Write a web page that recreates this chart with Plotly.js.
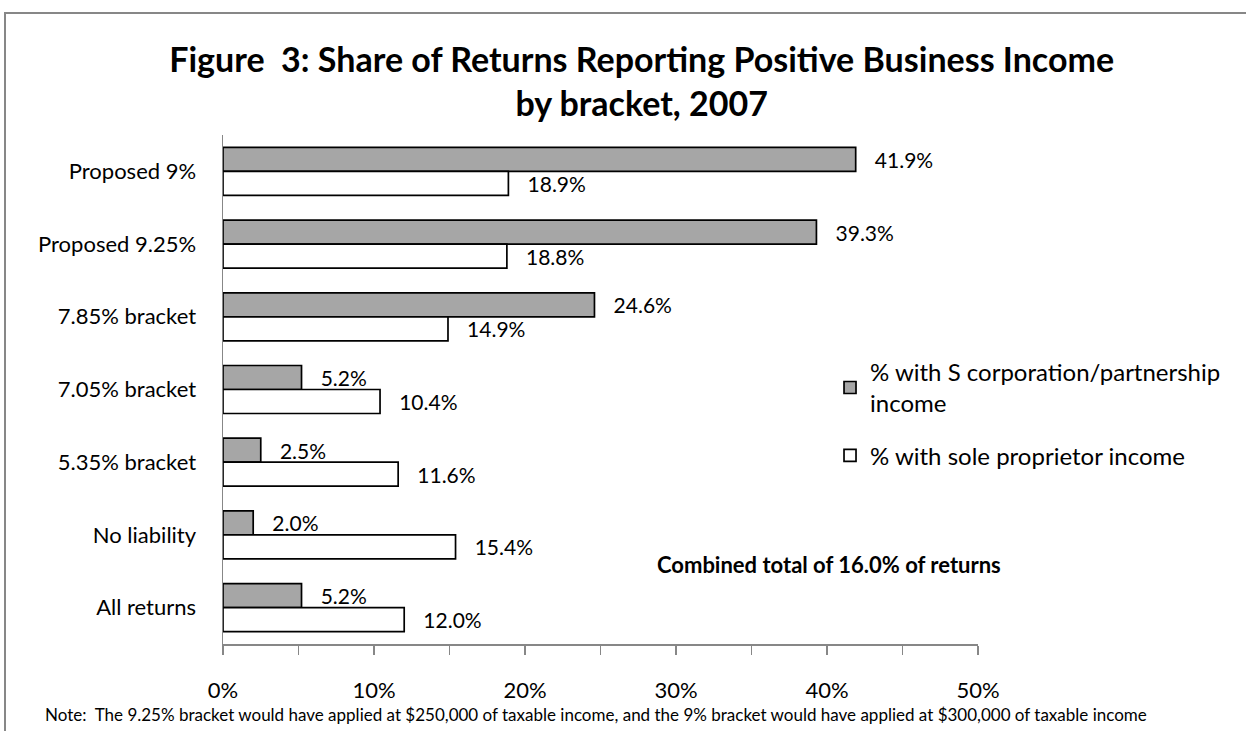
<!DOCTYPE html>
<html>
<head>
<meta charset="utf-8">
<script src="https://cdn.plot.ly/plotly-3.0.1.min.js"></script>
<style>
html,body{margin:0;padding:0;background:#fff;}
#frame{position:absolute;left:4px;top:12px;width:1300px;height:800px;border-left:2px solid #878787;border-top:2px solid #878787;pointer-events:none;}
#chart{position:absolute;left:0;top:0;width:1246px;height:731px;}
</style>
</head>
<body>
<div id="chart"></div>
<div id="frame"></div>
<script>
const categories = ["Proposed 9%", "Proposed 9.25%", "7.85% bracket", "7.05% bracket", "5.35% bracket", "No liability", "All returns"];
const sCorpValues = [41.9, 39.3, 24.6, 5.2, 2.5, 2.0, 5.2];
const soleValues = [18.9, 18.8, 14.9, 10.4, 11.6, 15.4, 12.0];
const seriesNames = ["% with S corporation/partnership<br>income", "% with sole proprietor income"];
const xTickVals = [0, 10, 20, 30, 40, 50];
const xTickText = ["0%", "10%", "20%", "30%", "40%", "50%"];

const FONT = "Lato, 'Open Sans', sans-serif";
const LABEL_TEMPLATE = "\u00A0\u00A0\u00A0%{x:.1f}%";

const traces = [
  {
    type: "bar", orientation: "h", name: seriesNames[0], legendgroup: "a",
    y: categories, x: sCorpValues,
    texttemplate: LABEL_TEMPLATE, textposition: "outside", constraintext: "none", cliponaxis: false,
    textfont: {family: FONT, size: 21, color: "#000"},
    marker: {color: "#a6a6a6", line: {color: "#000", width: 1.7}},
    hoverinfo: "skip"
  },
  {
    type: "bar", orientation: "h", name: seriesNames[1], legendgroup: "b",
    y: categories, x: soleValues,
    texttemplate: LABEL_TEMPLATE, textposition: "outside", constraintext: "none", cliponaxis: false,
    textfont: {family: FONT, size: 21, color: "#000"},
    marker: {color: "#ffffff", line: {color: "#000", width: 1.7}},
    hoverinfo: "skip"
  }
];

const layout = {
  width: 1246, height: 731,
  margin: {l: 223, r: 268, t: 135, b: 87},
  paper_bgcolor: "#fff", plot_bgcolor: "#fff",
  font: {family: FONT, color: "#000"},
  title: {
    text: "<b>Figure  3: Share of Returns Reporting Positive Business Income<br>by bracket, 2007</b>",
    font: {family: FONT, size: 34, color: "#000"},
    x: 0.515, xanchor: "center", xref: "container", y: 0.902, yanchor: "top", yref: "container"
  },
  barmode: "group", bargap: 0.34, bargroupgap: 0,
  xaxis: {
    range: [0, 50], tickvals: xTickVals, ticktext: xTickText,
    showgrid: false, zeroline: false,
    showline: true, linecolor: "#878787", linewidth: 1.5,
    ticks: "outside", ticklen: 9, tickcolor: "#878787", tickwidth: 1.5,
    minor: {dtick: 5, tick0: 0, ticks: "outside", ticklen: 9, tickcolor: "#878787", tickwidth: 1.5, showgrid: false},
    tickfont: {family: FONT, size: 22, color: "#000"},
    ticklabelstandoff: 17,
    fixedrange: true
  },
  yaxis: {
    type: "category", autorange: "reversed",
    showgrid: false, zeroline: false,
    showline: true, linecolor: "#878787", linewidth: 1.5,
    ticks: "", tickfont: {family: FONT, size: 22, color: "#000"},
    ticklabelstandoff: 21,
    fixedrange: true
  },
  showlegend: true,
  legend: {
    x: 0.804, y: 0.578, xanchor: "left", yanchor: "top",
    traceorder: "grouped", font: {family: FONT, size: 24, color: "#000"},
    itemwidth: 30, tracegroupgap: 18, bgcolor: "rgba(0,0,0,0)"
  },
  annotations: [
    {
      text: "<b>Combined total of 16.0% of returns</b>",
      xref: "paper", yref: "paper", x: 0.803, y: 0.157, xanchor: "center", yanchor: "middle",
      showarrow: false, font: {family: FONT, size: 22, color: "#000"}
    },
    {
      text: "Note:  The 9.25% bracket would have applied at $250,000 of taxable income, and the 9% bracket would have applied at $300,000 of taxable income",
      xref: "paper", yref: "paper", x: -0.2384, y: -0.139, xanchor: "left", yanchor: "middle",
      showarrow: false, font: {family: FONT, size: 17, color: "#000"}
    }
  ]
};

Plotly.newPlot("chart", traces, layout, {displayModeBar: false, staticPlot: true});
</script>
</body>
</html>
